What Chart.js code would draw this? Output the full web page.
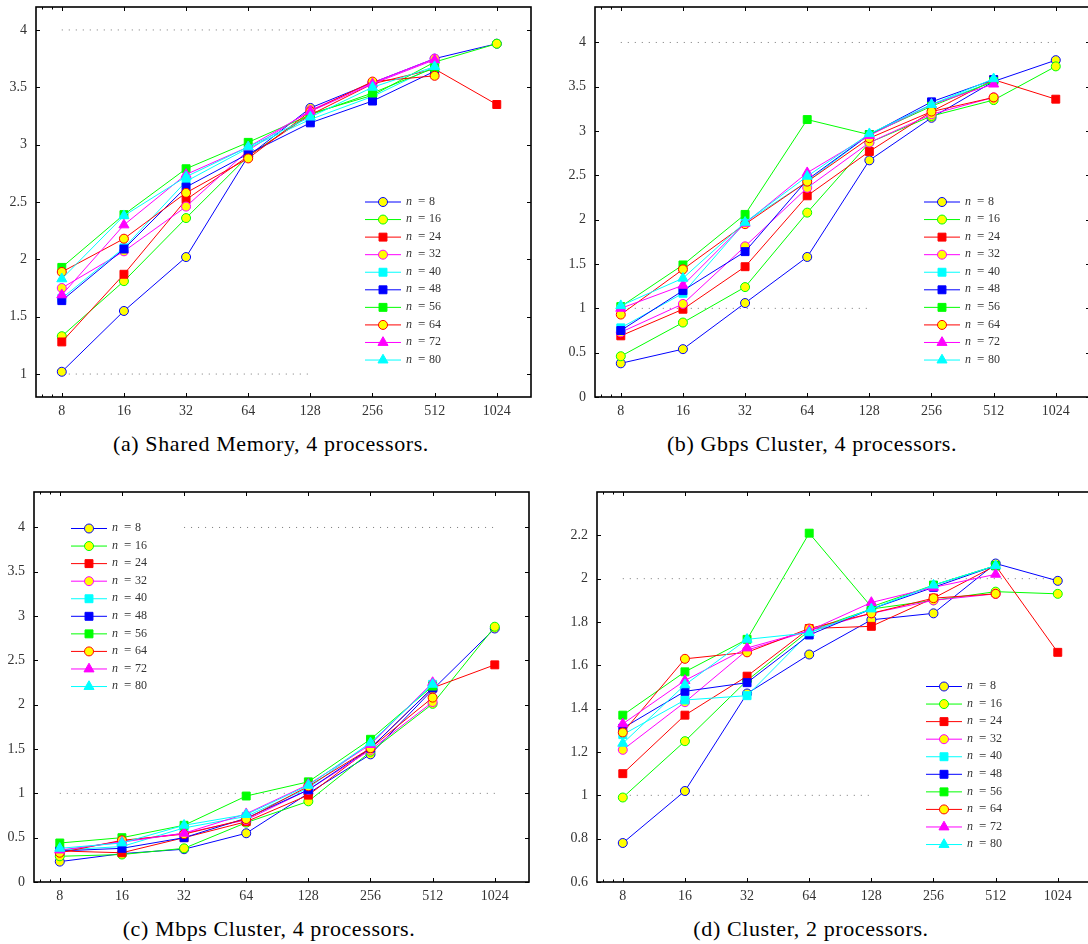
<!DOCTYPE html>
<html>
<head>
<meta charset="utf-8">
<script src="https://cdn.jsdelivr.net/npm/chart.js@4.4.1/dist/chart.umd.min.js"></script>
<style>
  html, body { margin: 0; padding: 0; background: #fff; overflow: hidden; width: 1088px; height: 944px; }
  body { position: relative; }
  canvas { position: absolute; }
  .cap {
    position: absolute;
    font: 22px "Liberation Serif", "DejaVu Serif", serif;
    letter-spacing: 0.6px;
    line-height: 22px;
    color: #000;
    white-space: nowrap;
    transform: translateX(-50%);
  }
</style>
</head>
<body>
<canvas id="chartA"></canvas>
<canvas id="chartB"></canvas>
<canvas id="chartC"></canvas>
<canvas id="chartD"></canvas>
<div class="cap" style="left:271px;top:433px">(a) Shared Memory, 4 processors.</div>
<div class="cap" style="left:812px;top:433px">(b) Gbps Cluster, 4 processors.</div>
<div class="cap" style="left:269px;top:918px">(c) Mbps Cluster, 4 processors.</div>
<div class="cap" style="left:811px;top:918px">(d) Cluster, 2 processors.</div>

<script>
// problem sizes on the x axis (log scale, base 2)
const sizes = [8, 16, 32, 64, 128, 256, 512, 1024];
// one series per n
const nLabels = [8, 16, 24, 32, 40, 48, 56, 64, 72, 80];

// rows follow nLabels, columns follow sizes
const sharedMem4 = [
  [1.02, 1.55, 2.02, 2.90, 3.32, 3.54, 3.75, 3.88],
  [1.33, 1.81, 2.36, 2.90, 3.27, 3.43, 3.72, 3.88],
  [1.28, 1.87, 2.52, 2.90, 3.26, 3.53, 3.66, 3.35],
  [1.75, 2.07, 2.46, 2.95, 3.30, 3.54, 3.75, null],
  [1.66, 2.10, 2.68, 2.97, 3.22, 3.42, 3.68, null],
  [1.64, 2.09, 2.63, 2.92, 3.19, 3.38, 3.64, null],
  [1.93, 2.39, 2.79, 3.02, 3.26, 3.45, 3.67, null],
  [1.89, 2.18, 2.58, 2.88, 3.29, 3.55, 3.60, null],
  [1.69, 2.30, 2.74, 2.98, 3.29, 3.53, 3.74, null],
  [1.83, 2.38, 2.72, 2.98, 3.24, 3.50, 3.68, null]
];
const gbps4 = [
  [0.38, 0.54, 1.06, 1.58, 2.67, 3.15, 3.56, 3.80],
  [0.46, 0.84, 1.24, 2.08, 2.87, 3.17, 3.35, 3.73],
  [0.69, 0.99, 1.47, 2.27, 2.77, 3.22, 3.58, 3.36],
  [0.73, 1.05, 1.70, 2.36, 2.87, 3.19, 3.38, null],
  [0.78, 1.17, 1.97, 2.43, 2.96, 3.30, 3.56, null],
  [0.75, 1.20, 1.64, 2.45, 2.96, 3.33, 3.58, null],
  [1.02, 1.49, 2.06, 3.13, 2.96, 3.28, 3.56, null],
  [0.93, 1.44, 1.95, 2.43, 2.92, 3.22, 3.38, null],
  [1.00, 1.26, 1.96, 2.53, 2.95, 3.30, 3.53, null],
  [1.03, 1.34, 1.97, 2.49, 2.97, 3.30, 3.59, null]
];
const mbps4 = [
  [0.23, 0.32, 0.37, 0.55, 1.00, 1.44, 2.17, 2.86],
  [0.29, 0.31, 0.38, 0.67, 0.91, 1.47, 2.01, 2.88],
  [0.35, 0.33, 0.50, 0.68, 0.98, 1.51, 2.19, 2.45],
  [0.35, 0.46, 0.55, 0.70, 1.04, 1.49, 2.03, null],
  [0.36, 0.40, 0.61, 0.74, 1.06, 1.57, 2.23, null],
  [0.35, 0.38, 0.50, 0.72, 1.04, 1.51, 2.19, null],
  [0.44, 0.50, 0.64, 0.97, 1.13, 1.61, 2.21, null],
  [0.33, 0.47, 0.54, 0.71, 1.08, 1.51, 2.08, null],
  [0.36, 0.45, 0.55, 0.77, 1.10, 1.55, 2.25, null],
  [0.38, 0.44, 0.64, 0.76, 1.09, 1.57, 2.23, null]
];
const cluster2 = [
  [0.78, 1.02, 1.47, 1.65, 1.81, 1.84, 2.07, 1.99],
  [0.99, 1.25, 1.53, 1.76, 1.86, 1.90, 1.94, 1.93],
  [1.10, 1.37, 1.55, 1.77, 1.78, 1.91, 2.06, 1.66],
  [1.21, 1.43, 1.67, 1.76, 1.84, 1.90, 1.93, null],
  [1.28, 1.44, 1.46, 1.75, 1.86, 1.97, 2.06, null],
  [1.31, 1.48, 1.52, 1.74, 1.86, 1.96, 2.06, null],
  [1.37, 1.57, 1.72, 2.21, 1.87, 1.97, 2.06, null],
  [1.29, 1.63, 1.66, 1.77, 1.84, 1.91, 1.93, null],
  [1.33, 1.53, 1.68, 1.76, 1.89, 1.96, 2.02, null],
  [1.24, 1.51, 1.72, 1.75, 1.86, 1.97, 2.06, null]
];

// y tick labels
const yTicksA = [1, 1.5, 2, 2.5, 3, 3.5, 4];
const yTicksBC = [0, 0.5, 1, 1.5, 2, 2.5, 3, 3.5, 4];
const yTicksD = [0.6, 0.8, 1, 1.2, 1.4, 1.6, 1.8, 2, 2.2];

// dotted guide lines: [y, from size, to size]
const guidesA = [[4, 8, 1024], [1, 8, 128]];
const guidesB = [[4, 8, 1024], [1, 8, 128]];
const guidesC = [[4, 32, 1024], [1, 8, 1024]];
const guidesD = [[2, 8, 1024], [1, 8, 128]];

const lineColors = ['#0000ff', '#00ff00', '#ff0000', '#ff00ff', '#00ffff',
                    '#0000ff', '#00ff00', '#ff0000', '#ff00ff', '#00ffff'];
const markers = ['circle', 'circle', 'rect', 'circle', 'rect',
                 'rect', 'rect', 'circle', 'triangle', 'triangle'];

const SERIF = '"Liberation Serif", "DejaVu Serif", serif';
const PAD_L = 45, PAD_T = 8, PAD_R = 12, PAD_B = 32;

function markerRadius(style) {
  if (style === 'rect') return 5.6;
  if (style === 'triangle') return 5.8;
  return 4.5;
}

function seriesDatasets(rows) {
  return rows.map((row, i) => {
    const style = markers[i];
    const fill = style === 'circle' ? '#ffff00' : lineColors[i];
    return {
      label: 'n = ' + nLabels[i],
      data: sizes.map((s, j) => ({ x: Math.log2(s), y: row[j] })),
      borderColor: lineColors[i],
      borderWidth: 1,
      pointStyle: style,
      pointRadius: markerRadius(style),
      pointBackgroundColor: fill,
      pointBorderColor: lineColors[i],
      pointBorderWidth: 1,
      spanGaps: false,
      order: 20 - i
    };
  });
}

function guideDatasets(guides) {
  return guides.map(g => ({
    label: '',
    isGuide: true,
    data: [{ x: Math.log2(g[1]), y: g[0] }, { x: Math.log2(g[2]), y: g[0] }],
    borderColor: '#777',
    borderWidth: 1,
    borderDash: [1, 6],
    pointRadius: 0,
    order: 50
  }));
}

// box with inward ticks on all four sides
const framePlugin = {
  id: 'frame',
  afterDatasetsDraw(chart) {
    const { ctx, chartArea: a, scales } = chart;
    const x = scales.x, y = scales.y;
    ctx.save();
    ctx.strokeStyle = '#000';
    ctx.lineWidth = 1;
    ctx.beginPath();
    x.ticks.forEach(t => {
      const px = Math.round(x.getPixelForValue(t.value)) + 0.5;
      ctx.moveTo(px, a.bottom); ctx.lineTo(px, a.bottom - 4);
      ctx.moveTo(px, a.top); ctx.lineTo(px, a.top + 4);
    });
    [6.45, 7.2].forEach(v => {
      const px = Math.round(x.getPixelForValue(Math.log2(v))) + 0.5;
      ctx.moveTo(px, a.bottom); ctx.lineTo(px, a.bottom - 2.5);
      ctx.moveTo(px, a.top); ctx.lineTo(px, a.top + 2.5);
    });
    y.ticks.forEach(t => {
      const py = Math.round(y.getPixelForValue(t.value)) + 0.5;
      ctx.moveTo(a.left, py); ctx.lineTo(a.left + 4, py);
      ctx.moveTo(a.right, py); ctx.lineTo(a.right - 4, py);
    });
    ctx.stroke();
    ctx.lineWidth = 1.6;
    ctx.strokeRect(a.left, a.top, a.right - a.left, a.bottom - a.top);
    ctx.restore();
  }
};

// legend drawn inside the plot area
const boxLegend = {
  id: 'boxLegend',
  afterDraw(chart, args, opts) {
    const { ctx, chartArea: a } = chart;
    const x0 = a.left + opts.x;
    let yy = a.top + opts.y;
    ctx.save();
    chart.data.datasets.forEach(ds => {
      if (ds.isGuide) return;
      ctx.strokeStyle = ds.borderColor;
      ctx.lineWidth = 1;
      ctx.beginPath();
      ctx.moveTo(x0, yy + 0.5);
      ctx.lineTo(x0 + 36, yy + 0.5);
      ctx.stroke();
      ctx.fillStyle = ds.pointBackgroundColor;
      ctx.strokeStyle = ds.pointBorderColor;
      Chart.helpers.drawPoint(ctx, {
        pointStyle: ds.pointStyle, radius: ds.pointRadius, rotation: 0, borderWidth: 1
      }, x0 + 18, yy + 0.5);
      const tx = x0 + 41;
      ctx.fillStyle = '#333';
      ctx.textBaseline = 'middle';
      ctx.font = 'italic 12px ' + SERIF;
      ctx.fillText('n', tx, yy);
      ctx.font = '13px ' + SERIF;
      ctx.fillText('=', tx + 12, yy);
      ctx.font = '12px ' + SERIF;
      ctx.fillText(ds.label.split('= ')[1], tx + 23, yy);
      yy += 17.56;
    });
    ctx.restore();
  }
};

function noPad(s) {
  s.paddingTop = 0; s.paddingBottom = 0;
  s.paddingLeft = 0; s.paddingRight = 0;
}

function makePanel(id, rect, rows, guides, yMin, yMax, yTicks, legendPos) {
  const cv = document.getElementById(id);
  const w = rect.r - rect.l + PAD_L + PAD_R;
  const h = rect.b - rect.t + PAD_T + PAD_B;
  cv.width = w; cv.height = h;
  cv.style.left = (rect.l - PAD_L) + 'px';
  cv.style.top = (rect.t - PAD_T) + 'px';
  cv.style.width = w + 'px'; cv.style.height = h + 'px';

  return new Chart(cv.getContext('2d'), {
    type: 'line',
    data: { datasets: guideDatasets(guides).concat(seriesDatasets(rows)) },
    options: {
      responsive: false,
      animation: false,
      events: [],
      layout: { padding: { left: 0, top: PAD_T, right: PAD_R, bottom: 0 } },
      plugins: {
        legend: { display: false },
        tooltip: { enabled: false },
        boxLegend: legendPos
      },
      scales: {
        x: {
          type: 'linear',
          min: Math.log2(6),
          max: Math.log2(1500),
          grid: { display: false, drawTicks: false },
          border: { display: false },
          afterBuildTicks: s => { s.ticks = sizes.map(v => ({ value: Math.log2(v) })); },
          afterFit: s => { s.height = PAD_B; noPad(s); },
          ticks: {
            padding: 6,
            color: '#333',
            font: { family: SERIF, size: 14 },
            maxRotation: 0,
            callback: v => String(Math.round(Math.pow(2, v)))
          }
        },
        y: {
          min: yMin,
          max: yMax,
          grid: { display: false, drawTicks: false },
          border: { display: false },
          afterBuildTicks: s => { s.ticks = yTicks.map(v => ({ value: v })); },
          afterFit: s => { s.width = PAD_L; noPad(s); },
          ticks: {
            padding: 9,
            color: '#333',
            font: { family: SERIF, size: 14 },
            callback: v => String(v)
          }
        }
      }
    },
    plugins: [framePlugin, boxLegend]
  });
}

makePanel('chartA', { l: 36, t: 7, r: 531, b: 397 }, sharedMem4, guidesA, 0.8, 4.2, yTicksA, { x: 329, y: 194.5 });
makePanel('chartB', { l: 595, t: 7, r: 1090, b: 397 }, gbps4, guidesB, 0, 4.4, yTicksBC, { x: 329, y: 194.5 });
makePanel('chartC', { l: 34, t: 492, r: 529, b: 882 }, mbps4, guidesC, 0, 4.4, yTicksBC, { x: 37, y: 36 });
makePanel('chartD', { l: 597, t: 492, r: 1092, b: 882 }, cluster2, guidesD, 0.6, 2.4, yTicksD, { x: 329, y: 194 });
</script>
</body>
</html>
